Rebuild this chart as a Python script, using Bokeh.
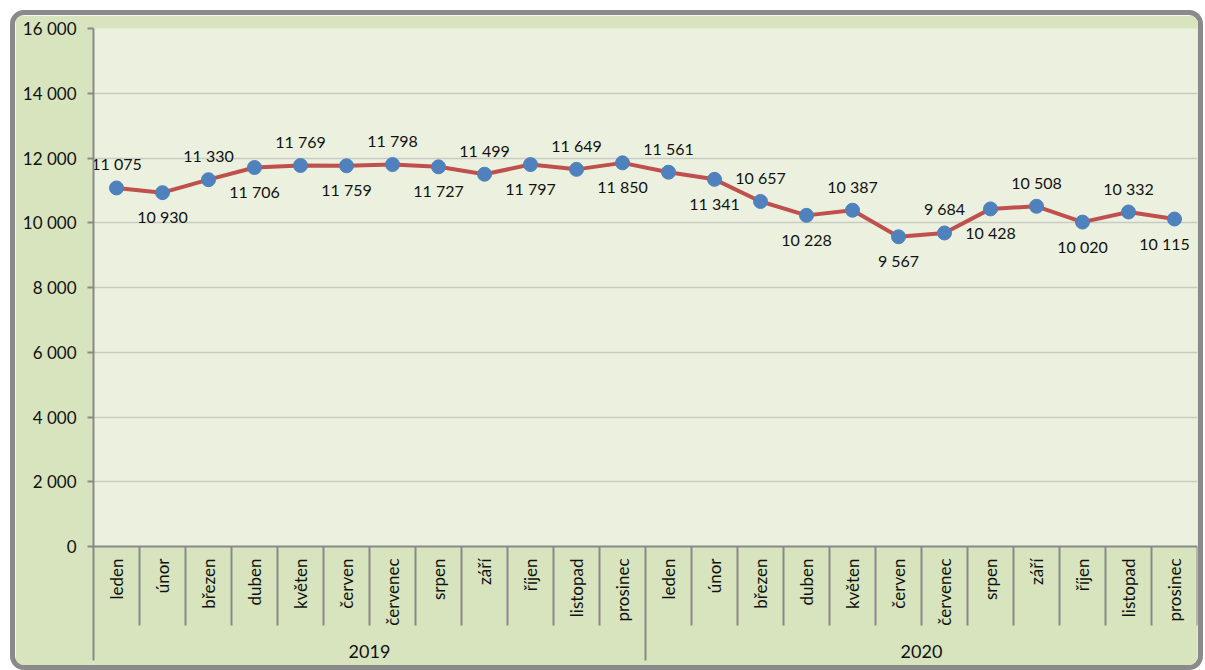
import math
from bokeh.plotting import figure
from bokeh.models import FactorRange, Range1d, FixedTicker, BoxAnnotation, Span
from bokeh.embed import file_html
from bokeh.resources import INLINE
from bokeh.core.properties import value

# ---------------- data ----------------
years = ["2019", "2020"]
months = ["leden", "únor", "březen", "duben", "květen", "červen",
          "červenec", "srpen", "září", "říjen", "listopad", "prosinec"]
values_2019 = [11075, 10930, 11330, 11706, 11769, 11759, 11798, 11727, 11499, 11797, 11649, 11850]
values_2020 = [11561, 11341, 10657, 10228, 10387, 9567, 9684, 10428, 10508, 10020, 10332, 10115]
y_ticks = [0, 2000, 4000, 6000, 8000, 10000, 12000, 14000, 16000]

factors = [(y, m) for y in years for m in months]
vals = values_2019 + values_2020


def fmt(v):
    return f"{v:,}".replace(",", " ")


# ---------------- layout ----------------
BORDER = 5
W, H = 1193, 660
B_LEFT, B_RIGHT, B_TOP, B_BOTTOM = 78, 11, 13, 10
frame_h = H - B_TOP - B_BOTTOM
ZERO_PX = 518                      # px from frame top to value 0
YMAX = y_ticks[-1]
upp = YMAX / ZERO_PX               # data units per pixel
y_start = -(frame_h - ZERO_PX) * upp

FONT = value("Lato")
OUTER = "#d7e4bd"
INNER = "#ebf1de"
AXIS = "#898989"
TXT = "#111111"

p = figure(
    x_range=FactorRange(factors=factors, factor_padding=0, group_padding=0,
                        subgroup_padding=0, range_padding=0),
    y_range=Range1d(y_start, YMAX),
    width=W, height=H,
    output_backend="svg", toolbar_location=None,
    x_axis_location=None,
    min_border_left=B_LEFT, min_border_right=B_RIGHT,
    min_border_top=B_TOP, min_border_bottom=B_BOTTOM,
)
p.styles = {"border": f"{BORDER}px solid #8a8a8a", "border-radius": "14px",
            "overflow": "hidden", "margin": "10px 0 0 10px"}

p.background_fill_color = OUTER
p.border_fill_color = OUTER
p.outline_line_color = None

# plot-area background (values 0..16000)
p.add_layout(BoxAnnotation(bottom=0, top=YMAX, fill_color=INNER, fill_alpha=1,
                           line_alpha=0, level="image"))

# grid
p.xgrid.visible = False
p.ygrid.ticker = FixedTicker(ticks=y_ticks[1:])
p.ygrid.grid_line_color = "#c9ccc2"
p.ygrid.grid_line_width = 1.5

# y axis
ya = p.yaxis[0]
ya.ticker = FixedTicker(ticks=y_ticks)
ya.bounds = (-114 * upp, YMAX)
ya.major_label_overrides = {t: fmt(t) for t in y_ticks}
ya.axis_line_color = AXIS
ya.axis_line_width = 2
ya.major_tick_line_color = AXIS
ya.major_tick_line_width = 2
ya.major_tick_in = 0
ya.major_tick_out = 6
ya.minor_tick_line_color = None
ya.major_label_standoff = 11
ya.major_label_text_font = "Lato"
ya.major_label_text_font_size = "17px"
ya.major_label_text_color = TXT

# horizontal axis line at 0
p.add_layout(Span(location=0, dimension="width", line_color=AXIS, line_width=2))

# category separators (synthetic categorical coordinates)
MONTH_ROW_PX = 79
month_sep_x = [i for i in range(1, 25) if i != 12]
p.segment(x0=month_sep_x, x1=month_sep_x, y0=0, y1=-MONTH_ROW_PX * upp,
          line_color=AXIS, line_width=2)
p.segment(x0=[12], x1=[12], y0=0, y1=-114 * upp, line_color=AXIS, line_width=2)

# month labels (vertical)
p.text(x=factors, y=-12 * upp, text=months * len(years), angle=math.pi / 2,
       text_align="right", text_baseline="middle", text_font=FONT,
       text_font_size="17px", text_color=TXT)
# year labels
p.text(x=years, y=-105 * upp, text=years, text_align="center", text_baseline="middle",
       text_font=FONT, text_font_size="18px", text_color=TXT)

# series
p.line(x=factors, y=vals, line_color="#c0504d", line_width=4)
p.scatter(x=factors, y=vals, size=14, fill_color="#4f81bd", line_color="#4f81bd")

# data labels, alternating above / below (last one nudged inside the plot area)
n = len(vals)
y_offsets = [-24 if i % 2 == 0 else 24 for i in range(n)]
x_offsets = [0] * (n - 1) + [-10]
p.text(x=factors, y=vals, text=[fmt(v) for v in vals], x_offset=x_offsets,
       y_offset=y_offsets, text_align="center", text_baseline="middle",
       text_font=FONT, text_font_size="16px", text_color=TXT)

open("out.html", "w").write(file_html(p, INLINE))
